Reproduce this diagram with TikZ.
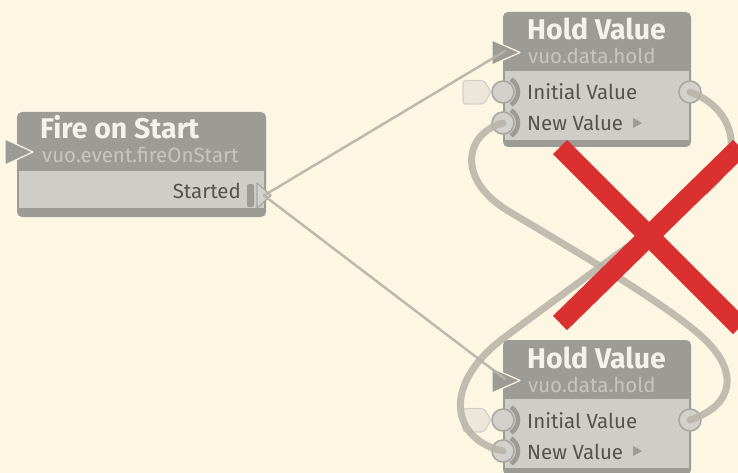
\documentclass[tikz,border=0pt]{standalone}
\usepackage{fontspec}
\setmainfont{Fira Sans}
\usetikzlibrary{calc}
\definecolor{canvas}{HTML}{FDF6E3}
\definecolor{frame}{HTML}{9D9B95}
\definecolor{body}{HTML}{CFCDC8}
\definecolor{titletext}{HTML}{F4F2EE}
\definecolor{classtext}{HTML}{C8C5BF}
\definecolor{porttext}{HTML}{55534F}
\definecolor{portfill}{HTML}{D3D1CC}
\definecolor{portedge}{HTML}{A8A6A1}
\definecolor{cable}{HTML}{B7B3A7}
\definecolor{flagfill}{HTML}{ECE7DA}
\definecolor{flagedge}{HTML}{D3CFC3}
\definecolor{strike}{HTML}{DB3030}
\tikzset{
  titlefont/.style={font=\fontsize{28.5}{28.5}\selectfont\bfseries, text=titletext, inner sep=0pt, anchor=base west},
  classfont/.style={font=\fontsize{20.5}{20.5}\selectfont, text=classtext, inner sep=0pt, anchor=base west},
  labelfont/.style={font=\fontsize{20.5}{20.5}\selectfont, text=porttext, inner sep=0pt},
  dataport/.style={circle, minimum size=22pt, inner sep=0pt, fill=portfill, draw=portedge, line width=1.5pt},
  refreshtip/.style={fill=frame, draw=canvas, line width=1.2pt, line join=round},
  datacable/.style={draw=cable, line width=7pt, line cap=round, opacity=0.85},
  eventcable/.style={draw=cable, line width=2.5pt, line cap=round, opacity=0.9},
  strikebar/.style={draw=strike, line width=20pt},
}
% one "Hold Value" node; #1 = name prefix, #2 = vertical offset
\newcommand\holdnode[2]{%
  \begin{scope}[shift={(0,#2)}]
    \fill[frame, rounded corners=5pt] (503,12) rectangle (691,147);
    \fill[body] (505,71) rectangle (689,140);
    \node[titlefont] (#1title) at (527,40) {Hold Value};
    \node[classfont] (#1class) at (528,64) {vuo.data.hold};
    % refresh input
    \coordinate (#1ref) at (505,51);
    \draw[refreshtip] (492,40) -- (520,52.5) -- (492,65) -- cycle;
    % constant flag for Initial Value
    \draw[fill=flagfill, draw=flagedge, line width=1.2pt, rounded corners=3pt]
      (491,92) -- (484,80.5) -- (463,80.5) -- (463,104) -- (484,104) -- cycle;
    % input ports
    \draw[frame, line width=4.5pt] (503,92) ++(-58:15) arc[start angle=-58, end angle=58, radius=15];
    \draw[frame, line width=4.5pt] (503,123) ++(-58:15) arc[start angle=-58, end angle=58, radius=15];
    \node[dataport] (#1init) at (503,92) {};
    \node[dataport] (#1new) at (503,123) {};
    \node[labelfont, anchor=base west] at (527,100) {Initial Value};
    \node[labelfont, anchor=base west] (#1newlabel) at (527,131) {New Value};
    \fill[frame] (633,118) -- (642,123) -- (633,128) -- cycle;
    % output port
    \node[dataport] (#1out) at (690,92) {};
  \end{scope}
}
\begin{document}
\begin{tikzpicture}[x=1pt, y=-1pt]
\useasboundingbox (0,0) rectangle (738,473);
\fill[canvas] (0,0) rectangle (738,473);
\begin{scope}
\clip (0,0) rectangle (738,473);

% Fire on Start
\fill[frame, rounded corners=5pt] (17,112) rectangle (266,217);
\fill[body] (19,171) rectangle (264,208);
\node[titlefont] (fostitle) at (40,139) {Fire on Start};
\node[classfont] (fosclass) at (42,163) {vuo.event.fireOnStart};
\draw[refreshtip] (5,139) -- (33,152) -- (5,165) -- cycle;
\node[labelfont, anchor=base east] (startedlabel) at (241,198) {Started};
\fill[frame, rounded corners=2pt] (247,184) rectangle (254,207);
\draw[fill=portfill, draw=portedge, line width=1.2pt, line join=round]
  (257,183) -- (271,195.5) -- (257,208) -- cycle;
\coordinate (started) at (264,195.5);

% two Hold Value nodes
\holdnode{ha}{0}
\holdnode{hb}{328}

% event cables
\draw[eventcable] (started) -- (haref);
\draw[eventcable] (started) -- (hbref);

% data cables (feedback loop)
\draw[datacable] (haout.center) .. controls (735,108) and (750,160) .. (700,195)
  .. controls (650,230) and (560,296) .. (505,337)
  .. controls (440,385) and (452,440) .. (hbnew.center);
\draw[datacable] (hanew.center) .. controls (465,133) and (455,180) .. (510,212)
  .. controls (570,248) and (660,300) .. (700,335)
  .. controls (740,370) and (735,405) .. (hbout.center);

% strike-through
\coordinate (xc) at (650,237);
\draw[strikebar] ($(xc)+(-90,-90)$) -- ($(xc)+(90,90)$);
\draw[strikebar] ($(xc)+(-90,86)$) -- ($(xc)+(90,-90)$);
\end{scope}
\end{tikzpicture}
\end{document}
